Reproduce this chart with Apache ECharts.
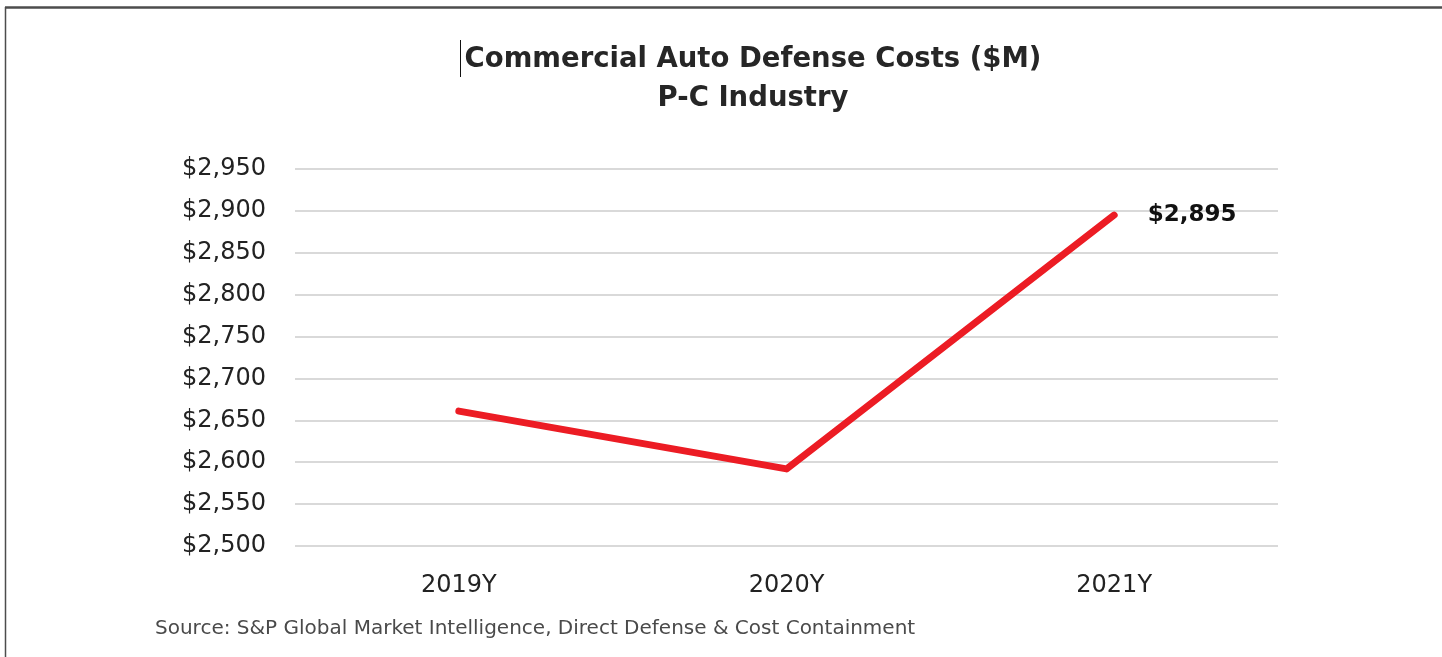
<!DOCTYPE html>
<html>
<head>
<meta charset="utf-8">
<script src="https://cdn.jsdelivr.net/npm/echarts@6/dist/echarts.min.js"></script>
<style>
  html, body { margin: 0; padding: 0; background: #ffffff; }
  #chart { width: 1442px; height: 657px; }
</style>
</head>
<body>
<div id="chart"></div>
<script>
// Commercial auto defense costs, P-C industry ($M)
const years = ['2019Y', '2020Y', '2021Y'];
const defenseCosts = [2661, 2592, 2895];
const yTicks = [2500, 2550, 2600, 2650, 2700, 2750, 2800, 2850, 2900, 2950];
const titleLines = ['Commercial Auto Defense Costs ($M)', 'P-C Industry'];

const fmtDollar = v => '$' + v.toLocaleString('en-US');

const titleStyle = {
  fontFamily: 'DejaVu Sans',
  fontWeight: 'bold',
  fontSize: 27.5,
  fill: '#262626',
  textAlign: 'center',
  textVerticalAlign: 'middle'
};

const chart = echarts.init(document.getElementById('chart'), null, { renderer: 'canvas' });

chart.setOption({
  backgroundColor: '#ffffff',
  animation: false,
  grid: { left: 295, right: 164, top: 169, bottom: 111 },
  xAxis: {
    type: 'category',
    data: years,
    boundaryGap: true,
    axisLine: { show: false },
    axisTick: { show: false },
    axisLabel: {
      margin: 28,
      fontFamily: 'DejaVu Sans',
      fontSize: 24,
      color: '#222222'
    }
  },
  yAxis: {
    type: 'value',
    min: yTicks[0],
    max: yTicks[yTicks.length - 1],
    interval: 50,
    axisLine: { show: false },
    axisTick: { show: false },
    splitLine: { lineStyle: { color: '#d9d9d9', width: 2 } },
    axisLabel: {
      margin: 29,
      fontFamily: 'DejaVu Sans',
      fontSize: 24,
      color: '#222222',
      formatter: v => fmtDollar(v)
    }
  },
  series: [{
    type: 'line',
    data: defenseCosts.map((v, i) => ({
      value: v,
      label: i === defenseCosts.length - 1 ? {
        show: true,
        position: 'right',
        distance: 33,
        formatter: p => fmtDollar(p.value),
        fontFamily: 'DejaVu Sans',
        fontWeight: 'bold',
        fontSize: 23,
        color: '#111111'
      } : { show: false }
    })),
    symbol: 'circle',
    symbolSize: 1,
    showSymbol: true,
    itemStyle: { color: '#ec1c24' },
    lineStyle: { color: '#ec1c24', width: 7, cap: 'round', join: 'round' }
  }],
  graphic: [
    // frame edges
    { type: 'line', shape: { x1: 5, y1: 7.5, x2: 1442, y2: 7.5 }, style: { stroke: '#4d4d4d', lineWidth: 2.5 } },
    { type: 'line', shape: { x1: 5.5, y1: 7, x2: 5.5, y2: 657 }, style: { stroke: '#4d4d4d', lineWidth: 1.5 } },
    // text caret before the title
    { type: 'line', shape: { x1: 460.5, y1: 40, x2: 460.5, y2: 77 }, style: { stroke: '#111111', lineWidth: 1 } },
    // two-line centred title
    { type: 'text', x: 753, y: 60, style: Object.assign({ text: titleLines[0] }, titleStyle) },
    { type: 'text', x: 753, y: 99, style: Object.assign({ text: titleLines[1] }, titleStyle) },
    {
      type: 'text',
      left: 155,
      top: 619,
      style: {
        text: 'Source: S&P Global Market Intelligence, Direct Defense & Cost Containment',
        fontFamily: 'DejaVu Sans',
        fontSize: 20,
        fill: '#4a4a4a'
      }
    }
  ]
});
</script>
</body>
</html>
